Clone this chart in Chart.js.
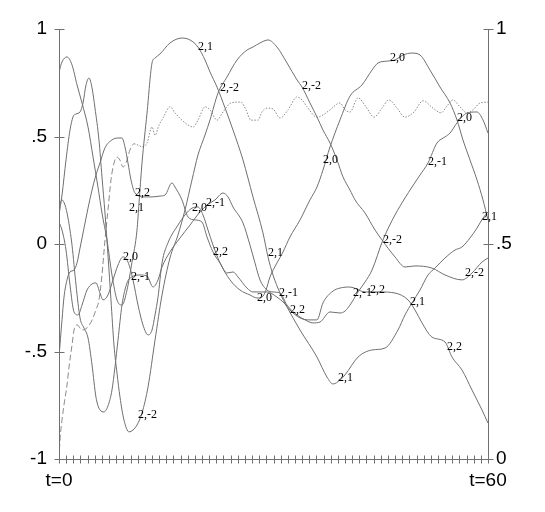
<!DOCTYPE html>
<html><head><meta charset="utf-8">
<script src="https://cdn.jsdelivr.net/npm/chart.js@4.4.1/dist/chart.umd.min.js"></script>
<style>html,body{margin:0;padding:0;background:#fff;}canvas{display:block;}</style>
</head><body>
<canvas id="c" width="545" height="512"></canvas>
<script>
// ---- data ----
const t21 = [0,0.42,1.12,1.82,2.52,3.22,4.06,4.76,5.45,6.01,6.71,7.41,8.11,8.81,9.51,10.21,10.91,11.19,11.61,12.31,13.01,13.43,14.13,15.52,17.2,18.32,19.44,20.42,21.12,22.1,23.22,24.34,25.73,27.13,28.53,29.23,29.93,30.91,31.89,33.71,36.08,37.48,38.32,39.3,40,41.82,43.78,45.59,47.41,48.39,49.37,50.49,51.61,52.59,53.99,55.38,56.36,57.48,58.46,59.3,60];
const v21 = [0.8,0.847,0.87,0.833,0.74,0.656,0.544,0.405,0.265,0.144,0.019,-0.144,-0.26,-0.284,-0.214,-0.084,0.065,0.191,0.377,0.609,0.842,0.865,0.884,0.935,0.958,0.949,0.916,0.856,0.8,0.73,0.633,0.53,0.391,0.219,0.051,-0.06,-0.144,-0.228,-0.293,-0.4,-0.526,-0.619,-0.651,-0.633,-0.609,-0.526,-0.493,-0.484,-0.4,-0.33,-0.274,-0.214,-0.144,-0.112,-0.065,-0.028,-0.014,0.028,0.074,0.121,0.149];

const t20 = [0,0.42,0.98,1.54,2.1,2.66,3.22,3.92,4.62,5.17,5.73,6.15,6.85,7.55,8.25,8.95,9.65,10.35,11.05,11.75,12.45,13.01,13.43,13.85,14.41,15.24,16.64,17.62,18.6,19.44,20.14,20.84,21.54,22.52,23.92,25.31,26.71,27.69,28.39,28.95,29.51,30.49,31.33,32.31,33.71,35.1,36.08,36.92,37.9,39.3,40.7,42.38,43.78,44.62,46.01,46.99,48.11,49.37,50.49,51.89,53.29,54.69,55.66,56.5,57.48,58.46,59.3,60];
const v20 = [0.102,0.065,-0.028,-0.191,-0.316,-0.33,-0.284,-0.214,-0.186,-0.181,-0.228,-0.26,-0.237,-0.167,-0.098,-0.06,-0.084,-0.167,-0.284,-0.377,-0.423,-0.4,-0.33,-0.247,-0.088,0.005,0.088,0.135,0.167,0.172,0.135,0.065,-0.005,-0.088,-0.167,-0.214,-0.237,-0.251,-0.247,-0.214,-0.153,-0.088,-0.037,0.033,0.112,0.205,0.265,0.344,0.451,0.577,0.688,0.74,0.809,0.842,0.851,0.856,0.879,0.888,0.879,0.809,0.73,0.656,0.577,0.484,0.391,0.298,0.205,0.112];

const t2m1 = [0,0.42,0.84,1.26,1.82,2.38,2.94,3.5,4.06,4.62,5.17,5.73,6.29,6.85,7.41,7.83,8.25,8.81,9.51,10.21,11.33,12.31,13.15,13.85,14.41,15.52,16.92,18.32,19.72,20.7,21.82,22.94,23.64,24.34,25.73,26.71,27.41,28.11,29.09,29.93,30.91,31.89,33.29,34.41,35.52,36.5,37.9,39.3,40,40.7,41.82,42.8,43.78,45.31,46.99,48.39,49.37,50.49,51.61,52.87,53.99,54.69,55.66,57.06,58.46,59.3,60];
const v2m1 = [0.172,0.205,0.181,0.121,-0.005,-0.191,-0.344,-0.391,-0.437,-0.563,-0.712,-0.772,-0.781,-0.753,-0.679,-0.572,-0.447,-0.284,-0.181,-0.153,-0.144,-0.149,-0.2,-0.167,-0.107,-0.037,0.028,0.088,0.149,0.181,0.205,0.237,0.219,0.172,0.098,-0.005,-0.088,-0.167,-0.214,-0.223,-0.228,-0.284,-0.33,-0.353,-0.367,-0.363,-0.316,-0.321,-0.312,-0.284,-0.223,-0.177,-0.121,0.019,0.135,0.214,0.265,0.321,0.377,0.47,0.498,0.516,0.563,0.609,0.614,0.577,0.516];

const t22 = [0,0.42,0.7,1.12,1.54,2.1,2.52,2.94,3.5,4.06,4.62,5.17,5.73,6.43,7.41,8.25,8.81,9.23,9.65,10.07,10.63,12.03,13.01,14.13,14.83,15.8,16.22,17.2,18.04,19.02,20,20.7,21.54,22.52,23.5,24.34,25.03,26.29,27.13,28.11,29.09,30.49,31.47,32.31,33.71,35.1,36.08,36.92,38.32,39.3,40.7,42.8,44.9,46.99,48.81,49.79,50.77,52.17,53.99,54.97,56.36,57.76,59.16,60];
const v22 = [-0.526,-0.353,-0.247,-0.167,-0.13,-0.121,-0.088,-0.019,0.074,0.167,0.251,0.321,0.377,0.447,0.484,0.493,0.493,0.451,0.377,0.298,0.237,0.219,0.219,0.223,0.228,0.284,0.265,0.205,0.126,0.112,0.102,0.033,-0.037,-0.088,-0.135,-0.13,-0.153,-0.205,-0.223,-0.223,-0.223,-0.247,-0.274,-0.307,-0.344,-0.353,-0.353,-0.274,-0.219,-0.205,-0.2,-0.223,-0.223,-0.228,-0.26,-0.307,-0.367,-0.433,-0.456,-0.526,-0.586,-0.679,-0.772,-0.833];

const t2m2 = [0,0.42,0.98,1.54,1.96,2.38,2.94,3.36,3.78,4.2,4.62,5.03,5.59,6.01,6.43,6.85,7.27,7.69,8.11,8.53,9.09,9.79,10.35,10.91,11.61,12.45,13.43,14.41,15.52,16.64,17.62,18.6,19.44,20.42,21.12,22.24,23.5,24.9,26.29,27.13,28.11,29.23,30.49,31.89,33.29,33.99,35.1,36.08,36.92,37.9,38.88,39.72,40.7,41.4,42.8,44.2,45.17,46.99,48.39,49.79,52.17,53.99,56.36,57.76,59.16,60];
const v2m2 = [0.135,0.228,0.391,0.53,0.591,0.605,0.614,0.656,0.74,0.772,0.726,0.633,0.484,0.312,0.144,-0.051,-0.26,-0.47,-0.6,-0.712,-0.819,-0.874,-0.865,-0.842,-0.786,-0.665,-0.447,-0.237,-0.065,0.042,0.158,0.298,0.414,0.507,0.577,0.702,0.777,0.856,0.902,0.916,0.935,0.949,0.916,0.842,0.763,0.73,0.656,0.591,0.53,0.47,0.391,0.312,0.251,0.205,0.144,0.065,0.019,-0.06,-0.107,-0.102,-0.112,-0.144,-0.167,-0.135,-0.084,-0.065];

// norm-like curve on the right axis (0..1): dashed early, dotted later
const tN = [0,0.14,0.42,0.7,1.12,1.4,1.82,2.1,2.52,3.22,3.92,4.62,5.17,5.59,6.01,6.43,6.85,7.27,7.69,8.11,8.53,8.95,9.37,9.93,10.49,11.05,11.61,12.31,13.01,13.43,13.99,14.55,15.52,16.22,17.2,18.04,18.74,19.44,20.42,21.12,22.1,22.94,24.06,25.45,26.15,26.85,27.83,28.39,29.09,29.93,30.91,32.03,33.29,33.99,34.69,36.08,36.92,37.9,39.3,40,40.7,41.82,42.94,44.06,45.17,46.15,47.27,48.39,49.65,50.91,52.31,53.43,54.27,55.1,56.08,57.06,57.9,58.88,60];
const vN = [0,0.044,0.091,0.126,0.172,0.214,0.265,0.3,0.312,0.3,0.305,0.323,0.347,0.37,0.428,0.509,0.579,0.649,0.688,0.702,0.695,0.679,0.688,0.719,0.733,0.73,0.726,0.735,0.772,0.753,0.777,0.793,0.819,0.805,0.788,0.777,0.772,0.788,0.819,0.812,0.788,0.807,0.828,0.83,0.812,0.788,0.788,0.807,0.816,0.814,0.793,0.812,0.842,0.835,0.819,0.795,0.8,0.812,0.828,0.812,0.807,0.84,0.819,0.795,0.816,0.835,0.816,0.795,0.807,0.833,0.816,0.805,0.821,0.835,0.819,0.805,0.812,0.828,0.83];

// curve labels (text, time, value on left axis)
const labelText = ['2,2','2,2','2,2','2,2','2,2','2,1','2,1','2,1','2,1','2,1','2,1','2,0','2,0','2,0','2,0','2,0','2,0','2,-1','2,-1','2,-1','2,-1','2,-1','2,-2','2,-2','2,-2','2,-2','2,-2'];
const labelT = [10.63,21.54,32.31,43.5,54.27, 9.79,19.44,29.23,39.02,49.09,59.16, 8.95,18.6,27.69,36.92,46.29,55.66, 10.07,20.56,30.77,41.12,51.61, 11.05,22.52,33.99,45.31,56.78];
const labelV = [0.237,-0.037,-0.307,-0.214,-0.479, 0.167,0.916,-0.042,-0.623,-0.27,0.126, -0.06,0.167,-0.251,0.391,0.865,0.586, -0.153,0.191,-0.228,-0.228,0.381, -0.795,0.726,0.735,0.019,-0.135];

// tick labels
const leftTickLabels = {'-1':'-1','-0.5':'-.5','0':'0','0.5':'.5','1':'1'};
const rightTickLabels = {'0':'0','0.5':'.5','1':'1'};
const xEndLabels = {'0':'t=0','60':'t=60'};
const dashSwitchT = 10;

// ---- chart ----
function pts(ts, vs){ return ts.map((t,i)=>({x:t, y:vs[i]})); }
const lineColor = '#6f6f6f';
function solid(ts, vs){
  return {data: pts(ts,vs), borderColor: lineColor, borderWidth: 1, pointRadius: 0,
          cubicInterpolationMode: 'monotone', yAxisID: 'y', fill: false};
}

const axesPlugin = {
  id: 'axesAndLabels',
  afterDraw(chart){
    const {ctx, chartArea: a, scales} = chart;
    const x = scales.x, y = scales.y, y2 = scales.y2;
    ctx.save();
    ctx.strokeStyle = '#707070';
    ctx.lineWidth = 1;
    ctx.beginPath();
    const L = Math.round(a.left) + 0.5, R = Math.round(a.right) + 0.5, B = Math.round(a.bottom) + 0.5;
    ctx.moveTo(L, a.top); ctx.lineTo(L, B);
    ctx.moveTo(R, a.top); ctx.lineTo(R, B);
    ctx.moveTo(L, B); ctx.lineTo(R, B);
    x.ticks.forEach(tk => {
      const px = Math.round(x.getPixelForValue(tk.value)) + 0.5;
      ctx.moveTo(px, B - 4); ctx.lineTo(px, B + 4);
    });
    y.ticks.forEach(tk => {
      const py = Math.round(y.getPixelForValue(tk.value)) + 0.5;
      ctx.moveTo(L - 5, py); ctx.lineTo(L + 5, py);
    });
    y2.ticks.forEach(tk => {
      const py = Math.round(y2.getPixelForValue(tk.value)) + 0.5;
      ctx.moveTo(R - 5, py); ctx.lineTo(R + 5, py);
    });
    ctx.stroke();
    ctx.fillStyle = '#000';
    ctx.font = '12px "Liberation Serif", "DejaVu Serif", serif';
    ctx.textAlign = 'left';
    ctx.textBaseline = 'middle';
    labelText.forEach((s, i) => {
      ctx.fillText(s, x.getPixelForValue(labelT[i]), y.getPixelForValue(labelV[i]));
    });
    ctx.restore();
  }
};

const tickFont = {family: '"Liberation Sans", Arial, sans-serif', size: 19};

new Chart(document.getElementById('c'), {
  type: 'line',
  data: {
    datasets: [
      solid(t22, v22),
      solid(t21, v21),
      solid(t20, v20),
      solid(t2m1, v2m1),
      solid(t2m2, v2m2),
      {data: pts(tN, vN), borderColor: '#8a8a8a', borderWidth: 1, pointRadius: 0,
       cubicInterpolationMode: 'monotone', yAxisID: 'y2', fill: false,
       segment: {borderDash: ctx => ctx.p0.parsed.x < dashSwitchT ? [6, 3] : [1.5, 1.5]}}
    ]
  },
  options: {
    responsive: false,
    animation: false,
    devicePixelRatio: 1,
    layout: {padding: {top: 29, left: 0, right: 0, bottom: 0}},
    plugins: {legend: {display: false}, tooltip: {enabled: false}},
    scales: {
      x: {
        type: 'linear', position: 'bottom', min: 0, max: 60,
        grid: {display: false, drawTicks: false}, border: {display: false},
        ticks: {stepSize: 1, autoSkip: false, maxTicksLimit: 100, maxRotation: 0, minRotation: 0,
                padding: 10, color: '#000', font: tickFont,
                callback: v => xEndLabels[String(v)] ?? ''},
        afterFit: s => { s.height = 53; }
      },
      y: {
        type: 'linear', position: 'left', min: -1, max: 1,
        grid: {display: false, drawTicks: false}, border: {display: false},
        ticks: {stepSize: 0.5, padding: 12, color: '#000', font: tickFont,
                callback: v => leftTickLabels[String(v)] ?? ''},
        afterFit: s => { s.width = 59; }
      },
      y2: {
        type: 'linear', position: 'right', min: 0, max: 1,
        grid: {display: false, drawTicks: false}, border: {display: false},
        ticks: {stepSize: 0.5, padding: 8, color: '#000', font: tickFont,
                callback: v => rightTickLabels[String(v)] ?? ''},
        afterFit: s => { s.width = 57; }
      }
    }
  },
  plugins: [axesPlugin]
});
</script>
</body></html>
